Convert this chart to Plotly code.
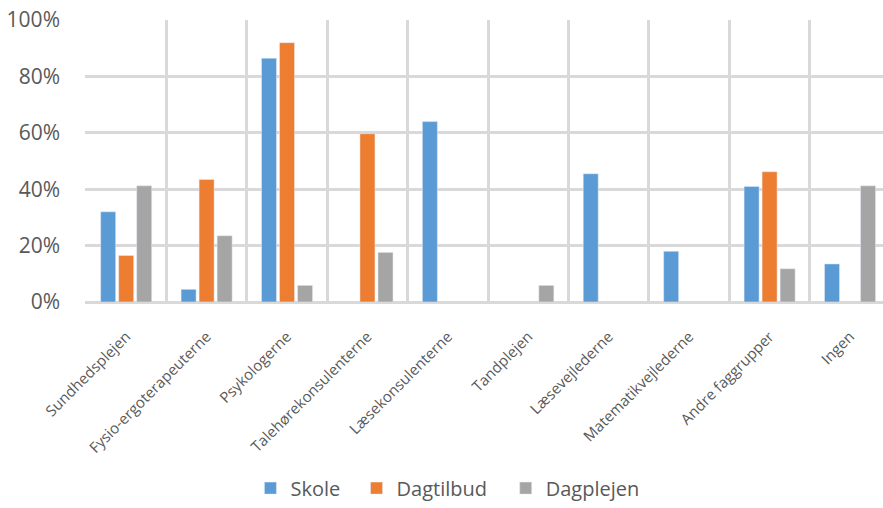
import plotly.graph_objects as go

categories = ["Sundhedsplejen", "Fysio-ergoterapeuterne", "Psykologerne",
              "Talehørekonsulenterne", "Læsekonsulenterne", "Tandplejen",
              "Læsevejlederne", "Matematikvejlederne", "Andre faggrupper", "Ingen"]
skole = [0.32, 0.045, 0.865, None, 0.64, None, 0.455, 0.18, 0.41, 0.135]
dagtilbud = [0.165, 0.435, 0.92, 0.597, None, None, None, None, 0.462, None]
dagplejen = [0.412, 0.235, 0.059, 0.176, None, 0.059, None, None, 0.118, 0.412]
y_ticks = [0, 0.2, 0.4, 0.6, 0.8, 1.0]

FONT = "Open Sans"
TXT = "#595959"
GRID = "#D9D9D9"

x_pos = list(range(len(categories)))
boundaries = [i - 0.5 for i in x_pos]  # vertical grid lines between categories

fig = go.Figure()
fig.add_trace(go.Bar(name="Skole", x=x_pos, y=skole, marker_color="#5B9BD5", legend="legend"))
fig.add_trace(go.Bar(name="Dagtilbud", x=x_pos, y=dagtilbud, marker_color="#ED7D31", legend="legend2"))
fig.add_trace(go.Bar(name="Dagplejen", x=x_pos, y=dagplejen, marker_color="#A5A5A5", legend="legend3"))

leg_common = dict(orientation="h", y=-0.66, yanchor="middle", xanchor="left",
                  font=dict(size=20, color=TXT), itemclick=False, bgcolor="rgba(0,0,0,0)")

fig.update_layout(
    width=883, height=508,
    margin=dict(l=85, r=0, t=20, b=201),
    paper_bgcolor="white", plot_bgcolor="white",
    showlegend=True, hovermode=False,
    barmode="group", bargap=0.328, bargroupgap=0.167,
    font=dict(family=FONT, color=TXT),
    legend=dict(x=0.2073, **leg_common),
    legend2=dict(x=0.3403, **leg_common),
    legend3=dict(x=0.5272, **leg_common),
    xaxis=dict(type="linear", range=[-0.512, 9.41],
               tickmode="array", tickvals=x_pos, ticktext=categories,
               showgrid=False, zeroline=False,
               minor=dict(tickmode="array", tickvals=boundaries, showgrid=True,
                          gridcolor=GRID, gridwidth=2.5, ticks=""),
               tickangle=-45, tickfont=dict(size=15, color=TXT),
               ticks="", showline=False, ticklabelstandoff=22, automargin=False,
               ticklabeloverflow="allow"),
    yaxis=dict(range=[0, 1.0005], tickvals=y_ticks, tickformat=".0%",
               showgrid=True, gridcolor=GRID, gridwidth=2.5,
               zeroline=True, zerolinecolor=GRID, zerolinewidth=2.5,
               ticklabeloverflow="allow",
               tickfont=dict(size=21, color=TXT), ticklabelstandoff=24, automargin=False),
)

# remove the browser's default 8px page margin so the figure fills the window exactly
fig.write_html("out.html", config={"displayModeBar": False},
               post_script="document.body.style.margin='0';document.body.style.overflow='hidden';")
